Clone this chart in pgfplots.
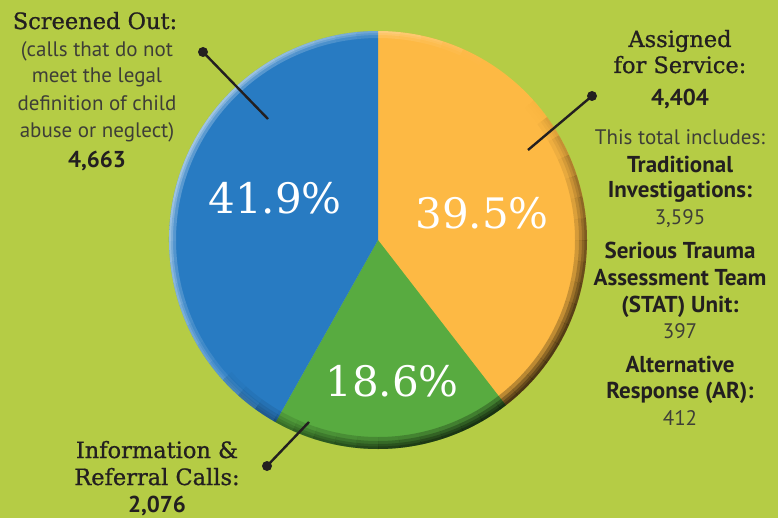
\documentclass[border=0pt]{standalone}
\usepackage{fontspec}
\setmainfont{PT Sans}
\newfontfamily\slab{DejaVu Serif}
\newfontfamily\slabB{DejaVu Serif}[FakeBold=0.8]
\usepackage{pgfplots}
\usepackage{pgfplotstable}
\pgfplotsset{compat=1.18}

\definecolor{bg}{RGB}{181,204,69}
\definecolor{cBlue}{RGB}{40,123,194}
\definecolor{cOrange}{RGB}{253,185,68}
\definecolor{cGreen}{RGB}{88,171,64}
\definecolor{ink}{RGB}{35,31,32}
\definecolor{inklight}{RGB}{62,62,55}

% slice values, clockwise from 12 o'clock
\pgfplotstableread{
slice value
assigned 4404
info 2076
screened 4663
}\piedata
\pgfplotstablegetelem{0}{value}\of\piedata\let\vA\pgfplotsretval
\pgfplotstablegetelem{1}{value}\of\piedata\let\vB\pgfplotsretval
\pgfplotstablegetelem{2}{value}\of\piedata\let\vC\pgfplotsretval
\pgfmathsetmacro\tot{\vA+\vB+\vC}
\pgfmathsetmacro\angA{90-360*(\vA/\tot)}
\pgfmathsetmacro\angB{\angA-360*(\vB/\tot)}

\newcommand\fTitle{\slabB\fontsize{22.5bp}{26bp}\selectfont}
\newcommand\fLight{\fontsize{21bp}{25bp}\selectfont\color{inklight}}
\newcommand\fBold{\bfseries\fontsize{23bp}{26bp}\selectfont}
\newcommand\fPct{\slab\fontsize{42bp}{48bp}\selectfont\color{white}}
\newcommand\txt[3]{\node[anchor=base,inner sep=0pt,text=ink] at (axis cs:#1,#2) {#3};}
% one piece of the rim: start angle, width, colour, opacity
\newcommand\rim[4]{\fill[#3, fill opacity={#4}] (axis cs:378,240) ++(#1:209bp)
    arc[start angle=#1, end angle=#1+6, radius=209bp] -- ++({#1+186}:#2bp)
    arc[start angle=#1+6, end angle=#1, radius=209bp-#2bp] -- cycle;}

\begin{document}
\begin{tikzpicture}
\begin{axis}[
    width=778bp, height=518bp, scale only axis,
    xmin=0, xmax=778, ymin=0, ymax=518,
    y dir=reverse,
    hide axis, clip=false,
]
% background
\fill[bg] (axis cs:0,0) rectangle (axis cs:778,518);

% slices
\fill[cOrange] (axis cs:378,240) -- ++(90:209bp)
    arc[start angle=90, end angle=\angA, radius=209bp] -- cycle;
\fill[cGreen] (axis cs:378,240) -- ++(\angA:209bp)
    arc[start angle=\angA, end angle=\angB, radius=209bp] -- cycle;
\fill[cBlue] (axis cs:378,240) -- ++(\angB:209bp)
    arc[start angle=\angB, end angle=-270, radius=209bp] -- cycle;

% bevel on the rim: dark towards bottom right, light towards upper left
\pgfplotsinvokeforeach{0,6,...,354}{
  \rim{#1}{12}{black}{0.26*max(0,cos(#1+53))}
  \rim{#1}{8}{black}{0.26*max(0,cos(#1+53))}
  \rim{#1}{5}{black}{0.26*max(0,cos(#1+53))}
  \rim{#1}{2.5}{black}{0.26*max(0,cos(#1+53))}
  \rim{#1}{7}{white}{0.24*max(0,cos(#1-147))}
  \rim{#1}{4}{white}{0.24*max(0,cos(#1-147))}
  \rim{#1}{2}{white}{0.24*max(0,cos(#1-147))}
}

% percentages
\node[anchor=base,inner sep=0pt,font=\fPct] at (axis cs:275,213) {41.9\%};
\node[anchor=base,inner sep=0pt,font=\fPct] at (axis cs:482,228) {39.5\%};
\node[anchor=base,inner sep=0pt,font=\fPct] at (axis cs:392,396) {18.6\%};

% leader lines
\draw[ink, line width=2.4bp] (axis cs:203,52) -- (axis cs:268,119);
\fill[ink] (axis cs:203,52) circle[radius=5bp];
\draw[ink, line width=2.4bp] (axis cs:592,96) -- (axis cs:528,150);
\fill[ink] (axis cs:592,96) circle[radius=5bp];
\draw[ink, line width=2.4bp] (axis cs:267,466) -- (axis cs:309,422);
\fill[ink] (axis cs:267,466) circle[radius=5bp];

% screened out
\txt{95}{29}{\fTitle Screened Out:}
\txt{97}{57}{\fLight (calls that do not}
\txt{97}{83}{\fLight meet the legal}
\txt{97}{110}{\fLight definition of child}
\txt{97}{137}{\fLight abuse or neglect)}
\txt{97}{167}{\fBold 4,663}

% assigned for service
\txt{680}{47}{\fTitle Assigned}
\txt{680}{73}{\fTitle for Service:}
\txt{680}{105}{\fBold 4,404}
\txt{680}{144}{\fLight This total includes:}
\txt{680}{172}{\fBold Traditional}
\txt{680}{197}{\fBold Investigations:}
\txt{680}{224}{\fLight 3,595}
\txt{680}{258}{\fBold Serious Trauma}
\txt{680}{285}{\fBold Assessment Team}
\txt{680}{312}{\fBold (STAT) Unit:}
\txt{680}{338}{\fLight 397}
\txt{680}{372}{\fBold Alternative}
\txt{680}{398}{\fBold Response (AR):}
\txt{680}{425}{\fLight 412}

% information and referral
\txt{157}{458}{\fTitle Information \&}
\txt{157}{485}{\fTitle Referral Calls:}
\txt{157}{512}{\fBold 2,076}
\end{axis}
\end{tikzpicture}
\end{document}
